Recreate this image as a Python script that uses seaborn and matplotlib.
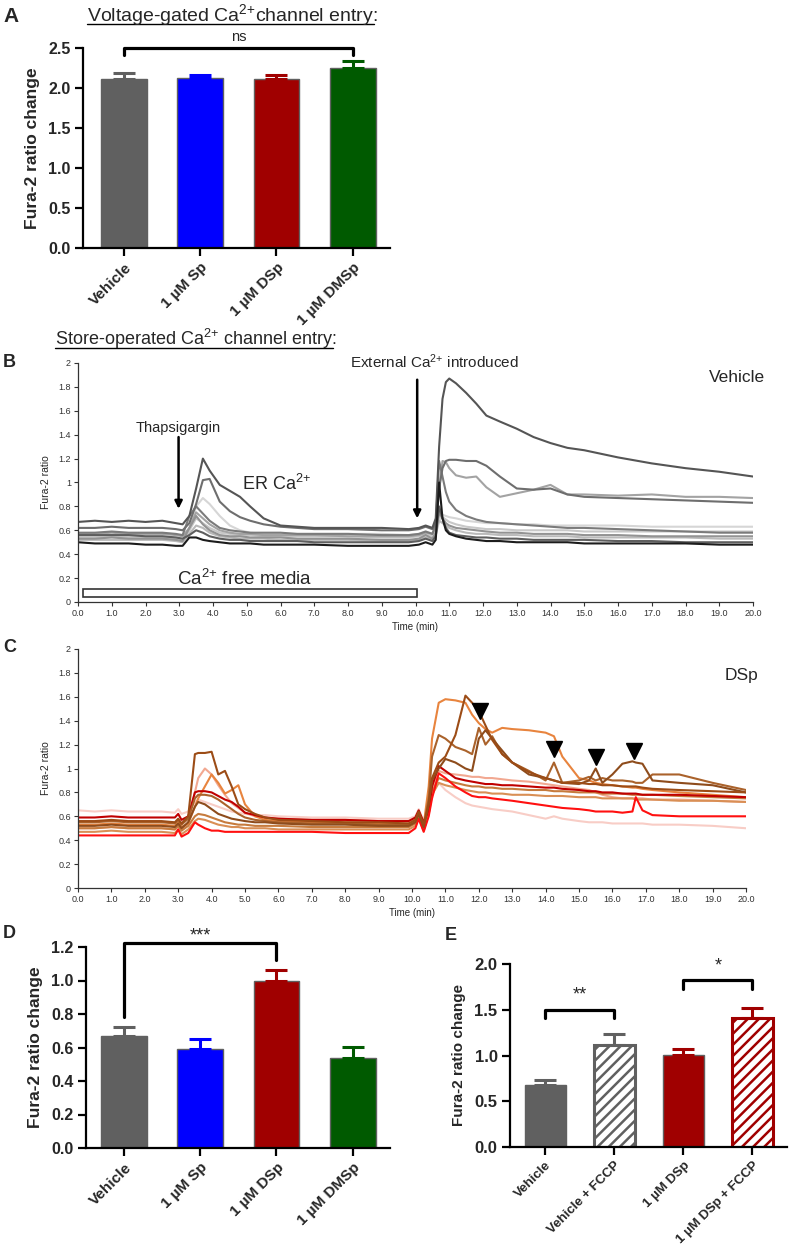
import matplotlib
matplotlib.use("Agg")
import matplotlib.pyplot as plt
import matplotlib.patches as mpatches
from matplotlib.lines import Line2D
import numpy as np
import pandas as pd
import seaborn as sns

# ---- bar data (panels A, D, E) ----
groups = ["Vehicle", "1 µM Sp", "1 µM DSp", "1 µM DMSp"]
group_colors = ["#606060", "#0000ff", "#a00000", "#005a00"]

vgcc_mean = [2.11, 2.12, 2.11, 2.25]
vgcc_sem = [0.08, 0.04, 0.05, 0.09]

soce_mean = [0.67, 0.59, 1.00, 0.54]
soce_sem = [0.05, 0.06, 0.065, 0.065]

fccp_groups = ["Vehicle", "Vehicle + FCCP", "1 µM DSp", "1 µM DSp + FCCP"]
fccp_colors = ["#606060", "#606060", "#a00000", "#a00000"]
fccp_mean = [0.68, 1.11, 1.01, 1.41]
fccp_sem = [0.05, 0.13, 0.06, 0.105]

# ---- single-cell traces, panel B (vehicle) ----
time_b = [0.0, 0.5, 1.0, 1.5, 2.0, 2.5, 2.9, 3.1, 3.3, 3.5,
          3.7, 3.9, 4.2, 4.5, 4.8, 5.1, 5.5, 6.0, 6.5, 7.0,
          8.0, 9.0, 9.8, 10.1, 10.3, 10.5, 10.6, 10.7, 10.8, 10.9,
          11.0, 11.2, 11.5, 11.8, 12.1, 12.5, 13.0, 13.5, 14.0, 14.5,
          15.0, 16.0, 17.0, 18.0, 19.0, 20.0]

veh_1 = [0.67, 0.68, 0.67, 0.68, 0.67, 0.68, 0.66, 0.65, 0.72, 0.95,
         1.20, 1.10, 0.98, 0.93, 0.88, 0.80, 0.70, 0.64, 0.63, 0.62,
         0.62, 0.62, 0.61, 0.62, 0.64, 0.62, 0.70, 1.30, 1.70, 1.84,
         1.87, 1.83, 1.75, 1.66, 1.56, 1.51, 1.45, 1.38, 1.33, 1.29,
         1.27, 1.21, 1.16, 1.12, 1.09, 1.05]
veh_2 = [0.62, 0.62, 0.63, 0.62, 0.62, 0.62, 0.61, 0.60, 0.66, 0.82,
         1.02, 1.03, 0.84, 0.76, 0.71, 0.68, 0.65, 0.63, 0.62, 0.61,
         0.61, 0.60, 0.60, 0.61, 0.63, 0.61, 0.66, 0.95, 1.12, 1.18,
         1.19, 1.19, 1.18, 1.18, 1.14, 1.05, 0.95, 0.94, 0.95, 0.90,
         0.88, 0.87, 0.86, 0.85, 0.84, 0.83]
veh_3 = [0.57, 0.57, 0.58, 0.57, 0.57, 0.57, 0.56, 0.55, 0.62, 0.75,
         0.70, 0.65, 0.60, 0.58, 0.57, 0.57, 0.56, 0.56, 0.56, 0.56,
         0.55, 0.55, 0.55, 0.56, 0.58, 0.57, 0.62, 0.95, 1.18, 1.17,
         1.12, 1.06, 1.04, 1.05, 0.96, 0.88, 0.91, 0.94, 0.98, 0.90,
         0.90, 0.89, 0.90, 0.88, 0.88, 0.87]
veh_4 = [0.55, 0.55, 0.56, 0.55, 0.55, 0.55, 0.54, 0.53, 0.60, 0.80,
         0.87, 0.82, 0.72, 0.64, 0.60, 0.58, 0.57, 0.57, 0.57, 0.57,
         0.57, 0.57, 0.56, 0.57, 0.59, 0.57, 0.60, 0.68, 0.73, 0.72,
         0.71, 0.70, 0.68, 0.67, 0.66, 0.66, 0.65, 0.65, 0.64, 0.64,
         0.64, 0.64, 0.63, 0.63, 0.63, 0.63]
veh_5 = [0.58, 0.58, 0.59, 0.58, 0.58, 0.58, 0.57, 0.56, 0.72, 0.80,
         0.74, 0.68, 0.62, 0.60, 0.59, 0.58, 0.58, 0.58, 0.57, 0.57,
         0.57, 0.56, 0.56, 0.57, 0.59, 0.57, 0.65, 1.18, 1.05, 0.92,
         0.84, 0.77, 0.72, 0.69, 0.67, 0.66, 0.65, 0.64, 0.63, 0.62,
         0.62, 0.61, 0.60, 0.59, 0.58, 0.58]
veh_6 = [0.53, 0.53, 0.54, 0.53, 0.53, 0.53, 0.52, 0.51, 0.62, 0.72,
         0.65, 0.60, 0.56, 0.55, 0.55, 0.54, 0.54, 0.54, 0.53, 0.53,
         0.53, 0.52, 0.52, 0.53, 0.56, 0.53, 0.58, 0.75, 0.70, 0.66,
         0.64, 0.62, 0.61, 0.60, 0.59, 0.58, 0.58, 0.57, 0.57, 0.57,
         0.56, 0.56, 0.55, 0.55, 0.55, 0.55]
veh_7 = [0.52, 0.52, 0.52, 0.52, 0.52, 0.52, 0.51, 0.50, 0.57, 0.64,
         0.62, 0.58, 0.55, 0.54, 0.53, 0.53, 0.53, 0.52, 0.52, 0.52,
         0.52, 0.51, 0.51, 0.52, 0.54, 0.52, 0.56, 0.68, 0.66, 0.64,
         0.62, 0.60, 0.58, 0.57, 0.57, 0.56, 0.56, 0.55, 0.55, 0.55,
         0.54, 0.54, 0.54, 0.54, 0.53, 0.53]
veh_8 = [0.56, 0.56, 0.56, 0.56, 0.55, 0.55, 0.54, 0.53, 0.56, 0.60,
         0.58, 0.55, 0.53, 0.52, 0.52, 0.51, 0.51, 0.51, 0.51, 0.50,
         0.50, 0.50, 0.50, 0.51, 0.53, 0.51, 0.55, 0.80, 0.70, 0.62,
         0.58, 0.56, 0.55, 0.54, 0.54, 0.53, 0.53, 0.52, 0.52, 0.52,
         0.52, 0.51, 0.51, 0.50, 0.50, 0.50]
veh_9 = [0.50, 0.49, 0.49, 0.49, 0.48, 0.48, 0.47, 0.47, 0.54, 0.54,
         0.52, 0.51, 0.50, 0.49, 0.49, 0.49, 0.48, 0.48, 0.48, 0.48,
         0.47, 0.47, 0.47, 0.48, 0.50, 0.48, 0.52, 1.00, 0.70, 0.60,
         0.57, 0.55, 0.53, 0.52, 0.51, 0.51, 0.50, 0.50, 0.50, 0.50,
         0.49, 0.49, 0.49, 0.49, 0.48, 0.48]
veh_10 = [0.54, 0.54, 0.55, 0.54, 0.54, 0.54, 0.53, 0.52, 0.60, 0.70,
          0.66, 0.62, 0.58, 0.57, 0.56, 0.56, 0.55, 0.55, 0.55, 0.55,
          0.55, 0.54, 0.54, 0.55, 0.57, 0.55, 0.60, 0.72, 0.71, 0.69,
          0.67, 0.65, 0.63, 0.62, 0.61, 0.61, 0.60, 0.60, 0.60, 0.60,
          0.59, 0.59, 0.59, 0.59, 0.59, 0.59]

# ---- single-cell traces, panel C (DSp) ----
time_c = [0.0, 0.5, 1.0, 1.5, 2.0, 2.5, 2.9, 3.0, 3.1, 3.3,
          3.5, 3.6, 3.8, 4.0, 4.2, 4.4, 4.6, 4.8, 5.0, 5.3,
          5.6, 6.0, 7.0, 8.0, 9.0, 9.9, 10.1, 10.2, 10.35, 10.5,
          10.6, 10.8, 11.0, 11.3, 11.6, 11.8, 12.0, 12.2, 12.4, 12.7,
          13.0, 13.5, 14.0, 14.25, 14.5, 15.0, 15.3, 15.5, 15.7, 16.0,
          16.3, 16.6, 16.7, 16.9, 17.2, 18.0, 19.0, 20.0]

dsp_1 = [0.44, 0.44, 0.44, 0.44, 0.44, 0.44, 0.44, 0.49, 0.43, 0.46,
         0.55, 0.53, 0.50, 0.48, 0.48, 0.47, 0.47, 0.47, 0.47, 0.47,
         0.47, 0.47, 0.47, 0.46, 0.46, 0.46, 0.50, 0.58, 0.47, 0.60,
         0.75, 0.96, 0.92, 0.85, 0.80, 0.77, 0.76, 0.76, 0.75, 0.74,
         0.73, 0.71, 0.69, 0.68, 0.67, 0.66, 0.65, 0.64, 0.64, 0.64,
         0.63, 0.64, 0.76, 0.65, 0.61, 0.60, 0.60, 0.60]
dsp_2 = [0.59, 0.59, 0.60, 0.59, 0.59, 0.59, 0.59, 0.62, 0.57, 0.60,
         0.80, 0.81, 0.81, 0.80, 0.77, 0.74, 0.72, 0.68, 0.63, 0.61,
         0.59, 0.58, 0.57, 0.57, 0.56, 0.56, 0.59, 0.65, 0.55, 0.65,
         0.85, 1.02, 0.98, 0.92, 0.90, 0.89, 0.88, 0.87, 0.87, 0.86,
         0.86, 0.85, 0.84, 0.84, 0.83, 0.82, 0.81, 0.81, 0.80, 0.80,
         0.79, 0.79, 0.79, 0.78, 0.78, 0.78, 0.77, 0.76]
dsp_3 = [0.65, 0.64, 0.65, 0.64, 0.64, 0.64, 0.63, 0.66, 0.62, 0.64,
         0.72, 0.74, 0.72, 0.70, 0.68, 0.66, 0.64, 0.63, 0.62, 0.61,
         0.61, 0.60, 0.59, 0.59, 0.58, 0.58, 0.60, 0.66, 0.56, 0.62,
         0.80, 0.88, 0.82, 0.76, 0.71, 0.69, 0.68, 0.67, 0.66, 0.65,
         0.64, 0.61, 0.58, 0.60, 0.58, 0.56, 0.55, 0.55, 0.55, 0.54,
         0.54, 0.54, 0.54, 0.54, 0.53, 0.53, 0.52, 0.50]
dsp_4 = [0.50, 0.50, 0.51, 0.50, 0.50, 0.50, 0.49, 0.52, 0.48, 0.55,
         0.80, 0.92, 1.00, 0.95, 0.86, 0.78, 0.71, 0.67, 0.63, 0.60,
         0.59, 0.58, 0.57, 0.57, 0.56, 0.56, 0.58, 0.64, 0.54, 0.62,
         0.82, 0.98, 0.96, 0.95, 0.94, 0.93, 0.93, 0.92, 0.92, 0.91,
         0.90, 0.89, 0.87, 0.86, 0.85, 0.83, 0.82, 0.80, 0.78, 0.76,
         0.75, 0.75, 0.75, 0.75, 0.74, 0.74, 0.73, 0.72]
dsp_5 = [0.53, 0.53, 0.54, 0.53, 0.53, 0.53, 0.52, 0.55, 0.51, 0.54,
         0.68, 0.75, 0.85, 0.95, 0.88, 0.79, 0.82, 0.86, 0.70, 0.60,
         0.57, 0.56, 0.55, 0.55, 0.54, 0.54, 0.57, 0.63, 0.53, 0.85,
         1.25, 1.55, 1.58, 1.57, 1.55, 1.45, 1.38, 1.33, 1.30, 1.34,
         1.33, 1.32, 1.30, 1.27, 1.10, 0.92, 0.90, 0.88, 0.87, 0.86,
         0.85, 0.84, 0.84, 0.83, 0.82, 0.80, 0.78, 0.76]
dsp_6 = [0.56, 0.56, 0.57, 0.56, 0.56, 0.56, 0.55, 0.58, 0.54, 0.60,
         1.12, 1.13, 1.13, 1.14, 0.95, 0.98, 0.85, 0.70, 0.66, 0.62,
         0.59, 0.57, 0.56, 0.55, 0.55, 0.54, 0.57, 0.64, 0.53, 0.70,
         0.92, 1.05, 1.10, 1.28, 1.61, 1.55, 1.48, 1.36, 1.24, 1.12,
         1.05, 0.97, 0.92, 0.90, 0.88, 0.88, 0.87, 0.87, 0.86, 0.86,
         0.85, 0.85, 0.85, 0.84, 0.83, 0.82, 0.81, 0.80]
dsp_7 = [0.55, 0.55, 0.56, 0.55, 0.55, 0.55, 0.54, 0.57, 0.53, 0.58,
         0.75, 0.78, 0.78, 0.77, 0.74, 0.70, 0.66, 0.62, 0.59, 0.57,
         0.56, 0.55, 0.54, 0.54, 0.53, 0.53, 0.56, 0.63, 0.52, 0.75,
         1.10, 1.28, 1.25, 1.18, 1.15, 1.12, 1.34, 1.20, 1.27, 1.12,
         1.05, 0.98, 0.90, 1.05, 0.88, 0.90, 0.93, 0.90, 0.92, 0.90,
         0.90, 0.89, 0.88, 0.88, 0.95, 0.95, 0.88, 0.82]
dsp_8 = [0.52, 0.52, 0.53, 0.52, 0.52, 0.52, 0.51, 0.54, 0.50, 0.55,
         0.68, 0.72, 0.70, 0.66, 0.62, 0.60, 0.58, 0.57, 0.56, 0.55,
         0.55, 0.54, 0.53, 0.53, 0.52, 0.52, 0.55, 0.62, 0.51, 0.70,
         0.90, 1.00, 1.08, 1.05, 1.00, 0.98, 1.25, 1.32, 1.25, 1.15,
         1.05, 0.95, 0.92, 0.90, 0.88, 0.87, 0.90, 1.00, 0.88, 0.95,
         1.04, 1.06, 1.05, 1.04, 0.90, 0.88, 0.86, 0.80]
dsp_9 = [0.50, 0.50, 0.51, 0.50, 0.50, 0.50, 0.49, 0.52, 0.48, 0.52,
         0.60, 0.62, 0.61, 0.59, 0.57, 0.55, 0.54, 0.53, 0.53, 0.52,
         0.52, 0.52, 0.51, 0.51, 0.51, 0.51, 0.54, 0.60, 0.50, 0.65,
         0.80, 0.92, 0.90, 0.88, 0.86, 0.85, 0.85, 0.84, 0.84, 0.83,
         0.83, 0.82, 0.82, 0.81, 0.81, 0.80, 0.80, 0.80, 0.79, 0.79,
         0.79, 0.78, 0.78, 0.78, 0.78, 0.77, 0.76, 0.75]
dsp_10 = [0.47, 0.47, 0.48, 0.47, 0.47, 0.47, 0.46, 0.49, 0.45, 0.49,
          0.56, 0.58, 0.57, 0.55, 0.53, 0.52, 0.51, 0.51, 0.50, 0.50,
          0.50, 0.49, 0.49, 0.49, 0.49, 0.49, 0.52, 0.58, 0.48, 0.62,
          0.78, 0.88, 0.86, 0.84, 0.82, 0.81, 0.80, 0.80, 0.79, 0.79,
          0.78, 0.78, 0.77, 0.77, 0.77, 0.76, 0.76, 0.76, 0.75, 0.75,
          0.75, 0.75, 0.74, 0.74, 0.74, 0.73, 0.73, 0.72]

# arrowheads marking Ca2+ oscillations in panel C
osc_time = [12.05, 14.25, 15.5, 16.65]
osc_ratio = [1.48, 1.16, 1.10, 1.15]

veh_traces = {"v4": veh_4, "v10": veh_10, "v7": veh_7, "v3": veh_3, "v6": veh_6,
              "v5": veh_5, "v8": veh_8, "v2": veh_2, "v1": veh_1, "v9": veh_9}
veh_colors = {"v4": "#d6d6d6", "v10": "#c8c8c8", "v7": "#bababa", "v3": "#a3a3a3",
              "v6": "#939393", "v5": "#7b7b7b", "v8": "#5e5e5e", "v2": "#6e6e6e",
              "v1": "#555555", "v9": "#1c1c1c"}

dsp_traces = {"d3": dsp_3, "d4": dsp_4, "d10": dsp_10, "d9": dsp_9, "d5": dsp_5,
              "d2": dsp_2, "d1": dsp_1, "d7": dsp_7, "d8": dsp_8, "d6": dsp_6}
dsp_colors = {"d3": "#f8cdc6", "d4": "#f2a891", "d10": "#d98f55", "d9": "#c67b3d",
              "d5": "#e8843e", "d2": "#c00000", "d1": "#ff1010", "d7": "#aa622b",
              "d8": "#8e4c1c", "d6": "#9c4c16"}


def trace_frame(t, traces):
    parts = [pd.DataFrame({"time": t, "ratio": v, "cell": k}) for k, v in traces.items()]
    return pd.concat(parts, ignore_index=True)


sns.set_style("ticks")
plt.rcParams["font.family"] = ["Liberation Sans", "DejaVu Sans"]
plt.rcParams["mathtext.fontset"] = "custom"
plt.rcParams["mathtext.rm"] = "Liberation Sans"
plt.rcParams["mathtext.it"] = "Liberation Sans:italic"
plt.rcParams["mathtext.bf"] = "Liberation Sans:bold"
plt.rcParams["mathtext.default"] = "regular"
plt.rcParams["hatch.linewidth"] = 1.8

W, H = 790, 1244
fig = plt.figure(figsize=(W / 100, H / 100), dpi=100)


def px_axes(left, top, right, bottom):
    return fig.add_axes([left / W, 1 - bottom / H, (right - left) / W, (bottom - top) / H])


axA = px_axes(83, 48, 390, 248)
axB = px_axes(78, 363, 753, 602)
axC = px_axes(78, 649, 746, 888)
axD = px_axes(86, 947, 390, 1148)
axE = px_axes(510, 964, 787, 1147)


def bar_panel(ax, cats, means, sems, colors, ymax, yticks, ylabel_size, tick_size, xlab_size):
    sns.barplot(x=cats, y=means, hue=cats, palette=colors, legend=False, width=0.6,
                saturation=1, ax=ax, edgecolor=colors, linewidth=1)
    for i in range(len(cats)):
        ax.errorbar(i, means[i], yerr=[[0], [sems[i]]], fmt="none", ecolor=colors[i],
                    elinewidth=2.2, capsize=8, capthick=2.2, zorder=1)
    sns.despine(ax=ax)
    for s in ["left", "bottom"]:
        ax.spines[s].set_linewidth(1.6)
        ax.spines[s].set_color("black")
    ax.set_ylim(0, ymax)
    ax.set_yticks(yticks)
    ax.set_yticklabels([f"{v:.1f}" for v in yticks], fontweight="bold", fontsize=tick_size)
    ax.set_xticks(range(len(cats)))
    ax.set_xticklabels(cats, rotation=45, ha="right", rotation_mode="anchor",
                       fontweight="bold", fontsize=xlab_size)
    ax.tick_params(axis="both", width=1.6, length=6, color="black", pad=3)
    ax.set_ylabel("Fura-2 ratio change", fontweight="bold", fontsize=ylabel_size, labelpad=6)
    ax.set_xlabel("")


# ---- panel A ----
bar_panel(axA, groups, vgcc_mean, vgcc_sem, group_colors, 2.5,
          [0.0, 0.5, 1.0, 1.5, 2.0, 2.5], 12.5, 11.5, 11)
axA.set_xlim(-0.54, 3.49)
axA.plot([0, 0, 3, 3], [2.41, 2.5, 2.5, 2.41], color="black", lw=2.3, clip_on=False)
axA.text(1.5, 2.55, "ns", ha="center", va="bottom", fontsize=10.5)

# ---- panel D ----
bar_panel(axD, groups, soce_mean, soce_sem, group_colors, 1.2,
          [0.0, 0.2, 0.4, 0.6, 0.8, 1.0, 1.2], 12.5, 11.5, 11)
axD.set_xlim(-0.5, 3.49)
axD.plot([0, 0, 2, 2], [0.785, 1.226, 1.226, 1.12], color="black", lw=2.3, clip_on=False)
axD.text(1.0, 1.215, "***", ha="center", va="bottom", fontsize=13)

# ---- panel E ----
bar_panel(axE, fccp_groups, fccp_mean, fccp_sem, fccp_colors, 2.0,
          [0.0, 0.5, 1.0, 1.5, 2.0], 11, 12, 9.5)
axE.set_xlim(-0.51, 3.5)
for i in (1, 3):
    p = axE.patches[i]
    p.set_facecolor("white")
    p.set_hatch("///")
    p.set_edgecolor(fccp_colors[i])
    p.set_linewidth(2.2)
axE.plot([0, 0, 1, 1], [1.41, 1.50, 1.50, 1.41], color="black", lw=2.3, clip_on=False)
axE.text(0.5, 1.57, "**", ha="center", va="bottom", fontsize=13)
axE.plot([2, 2, 3, 3], [1.73, 1.82, 1.82, 1.73], color="black", lw=2.3, clip_on=False)
axE.text(2.5, 1.89, "*", ha="center", va="bottom", fontsize=13)


# ---- trace panels ----
def trace_panel(ax, t, traces, colors):
    df = trace_frame(t, traces)
    sns.lineplot(data=df, x="time", y="ratio", hue="cell", hue_order=list(traces),
                 palette=colors, estimator=None, legend=False, linewidth=1.5, ax=ax)
    sns.despine(ax=ax)
    for s in ["left", "bottom"]:
        ax.spines[s].set_linewidth(0.9)
        ax.spines[s].set_color("#333333")
    ax.set_xlim(0, 20)
    ax.set_ylim(0, 2)
    xt = list(range(0, 21))
    ax.set_xticks(xt)
    ax.set_xticklabels([f"{v:.1f}" for v in xt], fontsize=6.5, color="#333333")
    yt = [0, 0.2, 0.4, 0.6, 0.8, 1, 1.2, 1.4, 1.6, 1.8, 2]
    ax.set_yticks(yt)
    ax.set_yticklabels([f"{v:g}" for v in yt], fontsize=6.5, color="#333333")
    ax.tick_params(axis="both", length=3, width=0.8, color="#333333", pad=2)
    ax.set_xlabel("Time (min)", fontsize=7, labelpad=3)
    ax.set_ylabel("Fura-2 ratio", fontsize=7.5, labelpad=5)


trace_panel(axB, time_b, veh_traces, veh_colors)
trace_panel(axC, time_c, dsp_traces, dsp_colors)

arrow_kw = dict(arrowstyle="-|>", color="black", lw=1.8, mutation_scale=11, shrinkA=0, shrinkB=0)
axB.annotate("", xy=(2.98, 0.78), xytext=(2.98, 1.38), arrowprops=arrow_kw)
axB.text(2.98, 1.42, "Thapsigargin", ha="center", va="baseline", fontsize=10.5)
axB.text(4.86, 0.935, "ER Ca$^{2{+}}$", ha="left", va="baseline", fontsize=13)
axB.annotate("", xy=(10.05, 0.70), xytext=(10.05, 1.86), arrowprops=arrow_kw)
axB.text(10.56, 1.96, "External Ca$^{2{+}}$ introduced", ha="center", va="baseline",
         fontsize=11, clip_on=False)
axB.text(20.35, 1.84, "Vehicle", ha="right", va="baseline", fontsize=12.5)
axB.add_patch(mpatches.Rectangle((0.14, 0.045), 9.89, 0.065, fill=False,
                                 edgecolor="#333333", lw=1.2))
axB.text(2.93, 0.142, "Ca$^{2{+}}$ free media", ha="left", va="baseline", fontsize=13.5)

axC.plot(osc_time, osc_ratio, ls="none", marker="v", color="black", ms=11)
axC.text(20.37, 1.74, "DSp", ha="right", va="baseline", fontsize=12.5)

# ---- panel letters ----
for letter, x, y, size in [("A", 3, 22, 15), ("B", 3, 367, 13), ("C", 3, 652, 13),
                           ("D", 3, 938, 13), ("E", 445, 940, 13)]:
    fig.text(x / W, 1 - y / H, letter, fontsize=size, fontweight="bold", va="baseline")


# ---- underlined section titles (colon left out of the underline) ----
def underlined_title(text, x_px, base_px, line_px, size):
    probe = fig.text(x_px / W, 1 - base_px / H, text, fontsize=size, va="baseline")
    fig.canvas.draw()
    bb = probe.get_window_extent(fig.canvas.get_renderer())
    probe.remove()
    fig.text(x_px / W, 1 - base_px / H, text + ":", fontsize=size, va="baseline")
    fig.add_artist(Line2D([bb.x0 / W, bb.x1 / W], [1 - line_px / H, 1 - line_px / H],
                          transform=fig.transFigure, color="black", lw=1.0))


underlined_title("Voltage-gated Ca$^{2{+}}$channel entry", 87, 21, 24, 14)
underlined_title("Store-operated Ca$^{2{+}}$ channel entry", 55, 345, 348.5, 13)

fig.savefig("out.png", dpi=100)
